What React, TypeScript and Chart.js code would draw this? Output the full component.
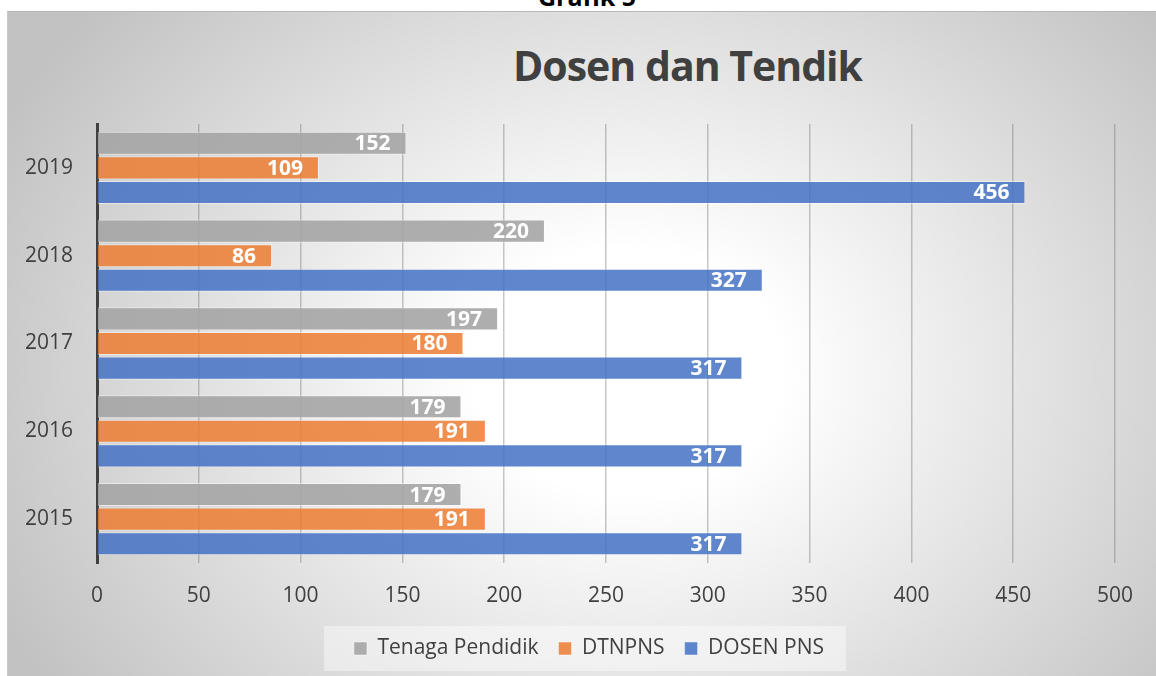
import React, { useEffect, useRef } from 'react';
import { Chart, registerables } from 'chart.js';

Chart.register(...registerables);

const pageHeading = 'Grafik 5';
const chartTitle = 'Dosen dan Tendik';
const categories = ['2019', '2018', '2017', '2016', '2015'];
const seriesNames = ['Tenaga Pendidik', 'DTNPNS', 'DOSEN PNS'];
const tenagaPendidik = [152, 220, 197, 179, 179];
const dtnpns = [109, 86, 180, 191, 191];
const dosenPns = [456, 327, 317, 317, 317];
const xMin = 0;
const xMax = 500;
const xStep = 50;

const FONT = "'Open Sans', sans-serif";
const TEXT = '#404040';

// shift the legend's horizontal span so it is centred like the original
const legendSpanPlugin = {
  id: 'legendSpan',
  afterLayout(chart: any) {
    const lg = chart.legend;
    if (lg) {
      lg.left = 63;
    }
  },
};

const legendBgPlugin = {
  id: 'legendBg',
  beforeDraw(chart: any) {
    const lg = chart.legend;
    if (!lg || !lg.legendHitBoxes || !lg.legendHitBoxes.length) return;
    const hb = lg.legendHitBoxes;
    const first = hb[0];
    const last = hb[hb.length - 1];
    const cy = first.top + first.height / 2;
    const ctx = chart.ctx;
    ctx.save();
    ctx.fillStyle = 'rgba(255,255,255,0.42)';
    ctx.fillRect(first.left - 30, cy - 22.5, last.left + last.width + 22 - (first.left - 30), 45);
    ctx.restore();
  },
};

const valueLabelPlugin = {
  id: 'valueLabels',
  afterDatasetsDraw(chart: any) {
    const ctx = chart.ctx;
    ctx.save();
    ctx.font = `bold 21px ${FONT}`;
    ctx.fillStyle = '#ffffff';
    ctx.textAlign = 'right';
    ctx.textBaseline = 'middle';
    chart.data.datasets.forEach((ds: any, i: number) => {
      const meta = chart.getDatasetMeta(i);
      meta.data.forEach((bar: any, j: number) => {
        ctx.fillText(String(ds.data[j]), bar.x - 16, bar.y + 1);
      });
    });
    ctx.restore();
  },
};

export default function App() {
  const ref = useRef<HTMLCanvasElement | null>(null);

  useEffect(() => {
    if (!ref.current) return;
    const chart = new Chart(ref.current, {
      type: 'bar',
      data: {
        labels: categories,
        datasets: [
          {
            label: seriesNames[0],
            data: tenagaPendidik,
            backgroundColor: 'rgba(165,165,165,0.9)',
            borderColor: 'rgba(255,255,255,0.45)',
            borderWidth: 1,
          },
          {
            label: seriesNames[1],
            data: dtnpns,
            backgroundColor: 'rgba(237,125,49,0.85)',
            borderColor: 'rgba(255,255,255,0.45)',
            borderWidth: 1,
          },
          {
            label: seriesNames[2],
            data: dosenPns,
            backgroundColor: 'rgba(68,114,196,0.85)',
            borderColor: 'rgba(255,255,255,0.45)',
            borderWidth: 1,
          },
        ],
      },
      options: {
        indexAxis: 'y',
        responsive: false,
        animation: false,
        devicePixelRatio: 1,
        categoryPercentage: 0.84,
        barPercentage: 0.94,
        layout: { padding: { left: 0, right: 41, top: 124, bottom: 7 } },
        plugins: {
          title: { display: false },
          tooltip: { enabled: false },
          legend: {
            display: true,
            position: 'bottom',
            labels: {
              boxWidth: 13,
              boxHeight: 13,
              padding: 20,
              color: TEXT,
              font: { family: FONT, size: 21 },
            },
          },
        },
        scales: {
          x: {
            type: 'linear',
            min: xMin,
            max: xMax,
            ticks: { stepSize: xStep, color: TEXT, padding: 20, font: { family: FONT, size: 21 } },
            grid: { color: 'rgba(120,120,120,0.42)', lineWidth: 1.5, drawTicks: false },
            border: { display: false },
            afterFit: (s: any) => {
              s.height = 55;
            },
          },
          y: {
            type: 'category',
            z: 1,
            ticks: { color: TEXT, padding: 24, font: { family: FONT, size: 21 } },
            grid: { display: false, drawTicks: false },
            border: { display: true, color: '#404040', width: 3 },
            afterFit: (s: any) => {
              s.width = 97;
            },
          },
        },
      } as any,
      plugins: [legendSpanPlugin, legendBgPlugin, valueLabelPlugin],
    });
    return () => chart.destroy();
  }, []);

  return (
    <div
      style={{
        position: 'fixed',
        left: 0,
        top: 0,
        width: 1156,
        height: 676,
        overflow: 'hidden',
        background: '#ffffff',
      }}
    >
      <div
        style={{
          position: 'absolute',
          left: 0,
          top: -16,
          width: 1174,
          textAlign: 'center',
          fontFamily: FONT,
          fontWeight: 700,
          fontSize: 25,
          lineHeight: '25px',
          color: '#000000',
        }}
      >
        {pageHeading}
      </div>
      <div
        style={{
          position: 'absolute',
          left: 7,
          top: 11,
          width: 1400,
          height: 800,
          borderTop: '1px solid #b8b8b8',
          borderLeft: '1px solid #c8c8c8',
          background:
            'radial-gradient(ellipse 700px 560px at 620px 360px, #ffffff 0%, #ffffff 22%, #c2c2c2 100%)',
        }}
      />
      <div
        style={{
          position: 'absolute',
          left: 513,
          top: 45,
          whiteSpace: 'nowrap',
          fontFamily: FONT,
          fontWeight: 700,
          fontSize: 41,
          lineHeight: '41px',
          letterSpacing: '-1px',
          color: TEXT,
        }}
      >
        {chartTitle}
      </div>
      <canvas
        ref={ref}
        width={1156}
        height={676}
        style={{ position: 'absolute', left: 0, top: 0, width: 1156, height: 676 }}
      />
    </div>
  );
}
